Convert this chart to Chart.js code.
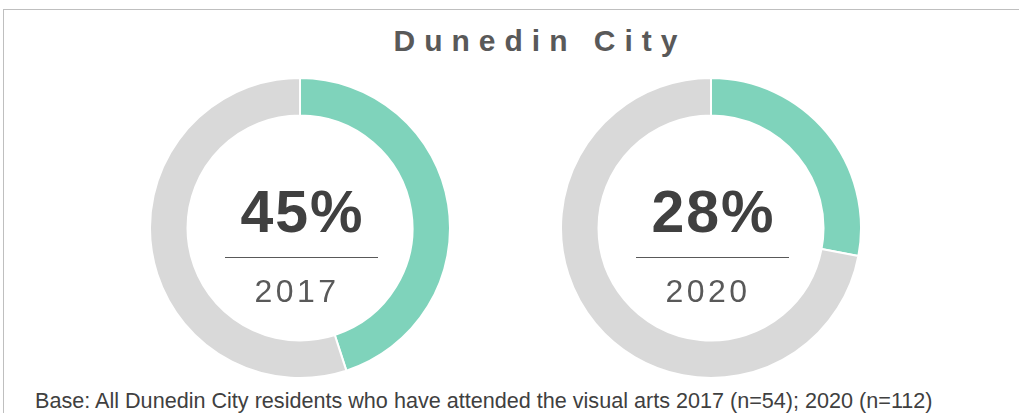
<!DOCTYPE html>
<html>
<head>
<meta charset="utf-8">
<script src="https://cdn.jsdelivr.net/npm/chart.js@4"></script>
<style>
  html, body { margin: 0; padding: 0; background: #fff; }
  body { width: 1019px; height: 413px; position: relative; overflow: hidden;
         font-family: "Liberation Sans", Arial, sans-serif; }
  .frame { position: absolute; left: 3px; top: 9px; right: -2px; bottom: -2px;
           border-top: 1px solid #bfbfbf; border-left: 1px solid #bfbfbf; }
  .title { position: absolute; left: 0; width: 1080px; top: 24px; text-align: center;
           font-size: 30px; font-weight: bold; letter-spacing: 9px; color: #595959; }
  .donut { position: absolute; top: 77px; width: 302px; height: 302px; }
  .donut canvas { position: absolute; left: 0; top: 0; }
  .center { position: absolute; left: 0; top: 0; width: 302px; height: 302px; pointer-events: none; }
  .pct { position: absolute; left: 0; width: 100%; top: 106px; text-align: center;
         font-size: 59px; font-weight: bold; color: #404040; line-height: 1;
         letter-spacing: 2px; padding-left: 5px; box-sizing: border-box; }
  .rule { position: absolute; left: 76px; width: 153px; top: 180px; height: 1px; background: #595959; }
  .year { position: absolute; left: 0; width: 100%; top: 198px; text-align: center;
          font-size: 32px; color: #595959; letter-spacing: 3.5px; line-height: 1;
          padding-right: 6px; box-sizing: border-box; }
  .base { position: absolute; left: 35px; top: 388px; font-size: 21.6px; color: #404040; white-space: nowrap; }
</style>
</head>
<body>
<div class="frame"></div>
<div class="title">Dunedin City</div>
<div class="base">Base: All Dunedin City residents who have attended the visual arts 2017 (n=54); 2020 (n=112)</div>

<script>
const years = ['2017', '2020'];
const attended = [45, 28];
const segmentLabels = ['Attended', 'Did not attend'];
const centersX = [300, 711];

const teal = '#7fd3bb';
const grey = '#d9d9d9';

years.forEach((year, i) => {
    const box = document.createElement('div');
    box.className = 'donut';
    box.style.left = (centersX[i] - 151) + 'px';

    const canvas = document.createElement('canvas');
    canvas.width = 302;
    canvas.height = 302;
    box.appendChild(canvas);

    // percentage, divider and year sit in the hole of the ring
    const center = document.createElement('div');
    center.className = 'center';
    center.innerHTML = '<div class="pct">' + attended[i] + '%</div>' +
        '<div class="rule"></div>' +
        '<div class="year">' + year + '</div>';
    box.appendChild(center);
    document.body.appendChild(box);

    new Chart(canvas, {
        type: 'doughnut',
        data: {
            labels: segmentLabels,
            datasets: [{
                data: [attended[i], 100 - attended[i]],
                backgroundColor: [teal, grey],
                borderColor: '#ffffff',
                borderWidth: 2,
                hoverOffset: 0
            }]
        },
        options: {
            responsive: false,
            animation: false,
            cutout: '75%',
            layout: { padding: 0 },
            plugins: {
                legend: { display: false },
                tooltip: { enabled: false }
            }
        }
    });
});
</script>
</body>
</html>
